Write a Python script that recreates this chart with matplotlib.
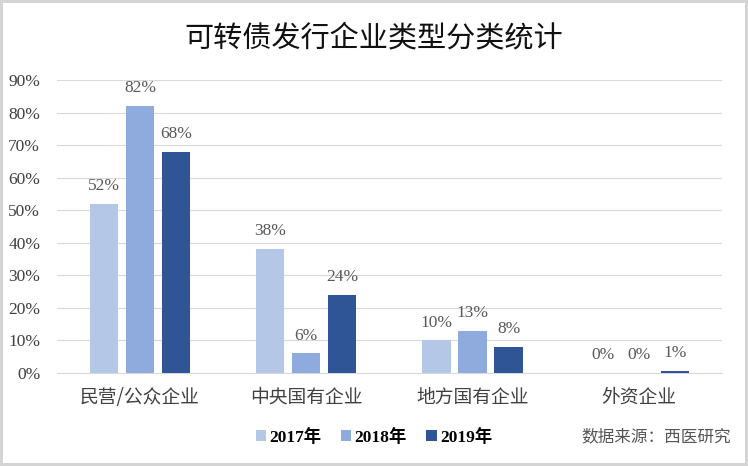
import matplotlib

matplotlib.use("Agg")
import matplotlib.pyplot as plt
import numpy as np

plt.rcParams["font.family"] = ["Liberation Serif", "Noto Sans CJK SC"]

categories = ["民营/公众企业", "中央国有企业", "地方国有企业", "外资企业"]
years = ["2017年", "2018年", "2019年"]
share_2017 = [52, 38, 10, 0]
share_2018 = [82, 6, 13, 0]
share_2019 = [68, 24, 8, 0.6]

COLORS = ["#B4C7E7", "#8FAADC", "#2F5597"]

fig = plt.figure(figsize=(7.48, 4.66), dpi=100)
fig.patch.set_edgecolor("#d4d4d4")
fig.patch.set_linewidth(4)
ax = fig.add_axes([0.076, 0.2, 0.889, 0.628])

xs = np.arange(len(categories))
width = 0.17
step = 0.217
for i, (vals, name) in enumerate(zip([share_2017, share_2018, share_2019], years)):
    pos = xs + (i - 1) * step
    ax.bar(pos, [v / 100 for v in vals], width, color=COLORS[i], label=name, zorder=3)
    for p, v in zip(pos, vals):
        ax.text(p, v / 100 + 0.03, f"{v:.0f}%", ha="center", va="bottom",
                fontsize=12.5, color="#595959")

ax.set_xlim(-0.5, 3.5)
ax.set_ylim(0, 0.9)
ax.set_yticks(np.arange(0, 0.91, 0.1))
ax.set_yticklabels([f"{int(round(t * 100))}%" for t in np.arange(0, 0.91, 0.1)],
                   fontsize=12.5, color="#404040")
ax.set_xticks(xs)
ax.set_xticklabels(categories, fontsize=13.5, color="#404040",
                   family=["Noto Sans CJK SC", "DejaVu Sans"])
ax.tick_params(length=0, axis="both")
ax.tick_params(axis="x", pad=10)
ax.tick_params(axis="y", pad=12)
ax.grid(axis="y", color="#d9d9d9", linewidth=0.8, zorder=0)
for s in ["top", "right", "left"]:
    ax.spines[s].set_visible(False)
ax.spines["bottom"].set_color("#d9d9d9")

fig.text(0.5, 0.918, "可转债发行企业类型分类统计", ha="center", va="center",
         fontsize=21, family=["Noto Sans CJK SC"], color="#111111")

leg = fig.legend(loc="center", bbox_to_anchor=(0.5, 0.062), ncols=3, frameon=False,
                 handlelength=0.6, handleheight=0.6, handletextpad=0.2,
                 columnspacing=1.1, prop={"size": 12.5, "weight": "bold",
                                          "family": ["Liberation Serif", "Noto Sans CJK SC"]})

fig.text(0.877, 0.062, "数据来源：西医研究", ha="center", va="center", fontsize=12,
         color="#555555", family=["Noto Sans CJK SC"])

fig.savefig("out.png", dpi=100)
